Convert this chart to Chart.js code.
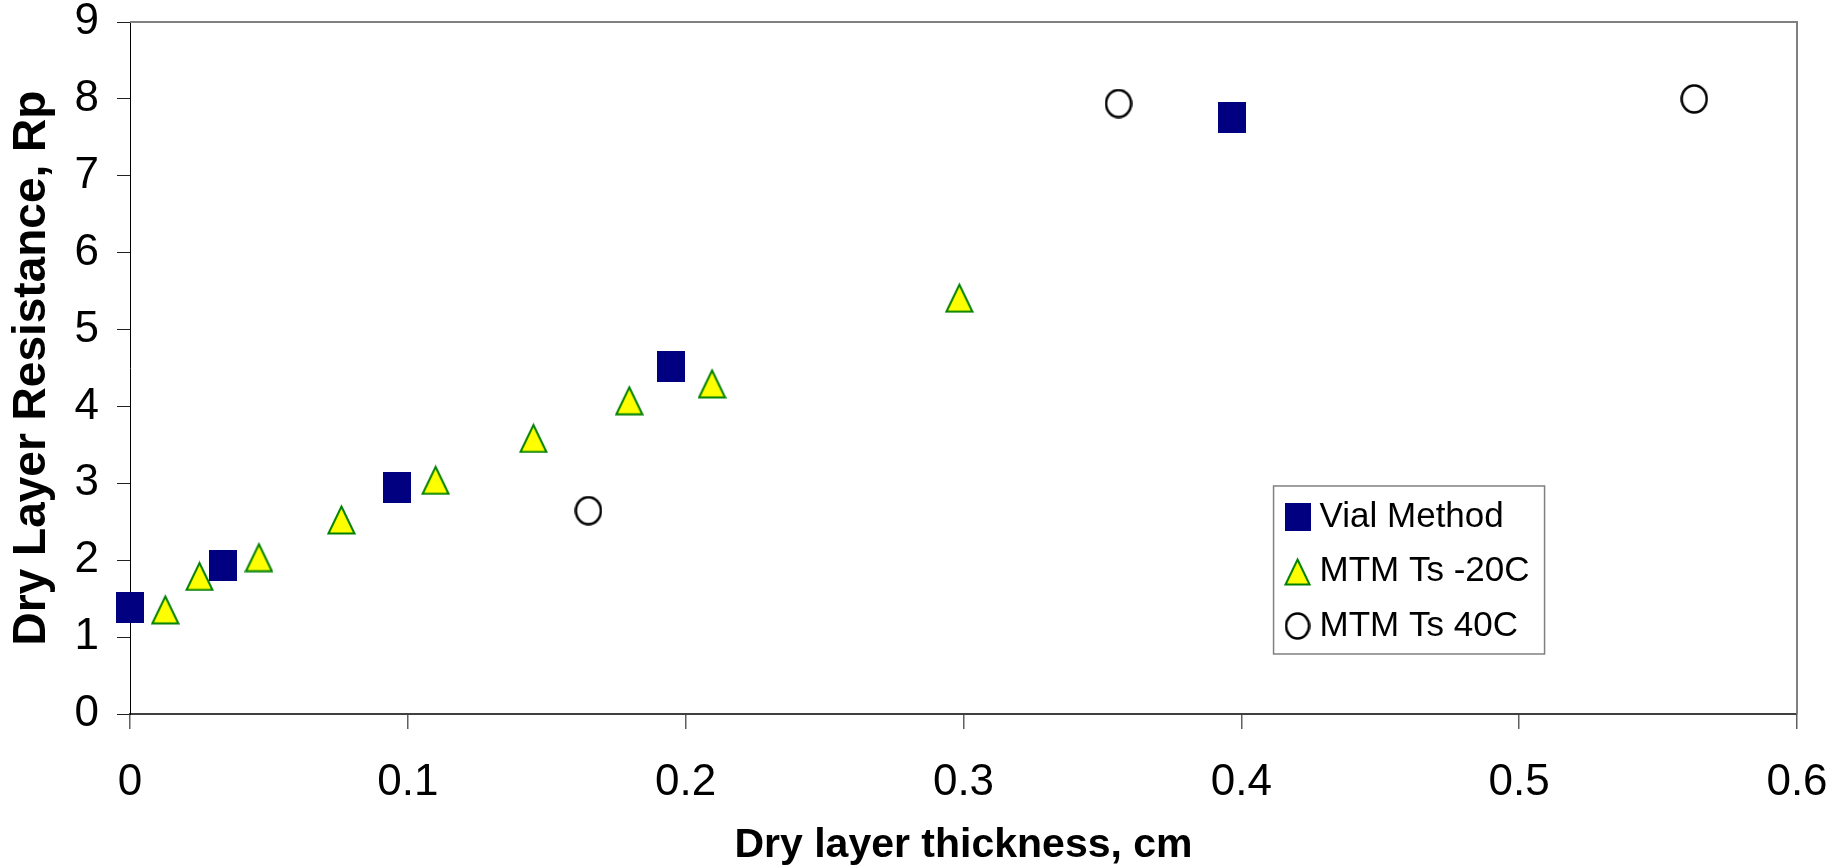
<!DOCTYPE html>
<html lang="en">
<head>
  <meta charset="UTF-8" />
  <title>Dry Layer Resistance vs Thickness</title>
  <script src="https://cdn.jsdelivr.net/npm/chart.js"></script>
  <style>
    html, body { margin: 0; padding: 0; background: #fff; }
    canvas { display: block; }
  </style>
</head>
<body>
  <canvas id="rpChart" width="1848" height="867"></canvas>

  <script>
    // dry layer thickness (cm) against dry layer resistance Rp
    const vialX = [0, 0.0333, 0.0960, 0.1949, 0.3966];
    const vialY = [1.39, 1.935, 2.94, 4.515, 7.755];

    const coldX = [0.0127, 0.0250, 0.0464, 0.0761, 0.1100, 0.1452, 0.1797, 0.2095, 0.2985];
    const coldY = [1.36, 1.795, 2.04, 2.53, 3.045, 3.59, 4.08, 4.30, 5.415];

    const warmX = [0.1650, 0.3558, 0.5630];
    const warmY = [2.645, 7.94, 8.00];

    const seriesNames = ['Vial Method', 'MTM Ts -20C', 'MTM Ts 40C'];
    const xTickLabels = ['0', '0.1', '0.2', '0.3', '0.4', '0.5', '0.6'];
    const yTickLabels = ['0', '1', '2', '3', '4', '5', '6', '7', '8', '9'];

    const FONT = '"Liberation Sans", Arial, sans-serif';

    function toPoints(xs, ys) {
      return xs.map((x, i) => ({ x: x, y: ys[i] }));
    }

    // markers are drawn on small canvases so they can be a bit taller than wide
    function marker(kind, w, h) {
      const c = document.createElement('canvas');
      c.width = w;
      c.height = h;
      const g = c.getContext('2d');
      if (kind === 'square') {
        g.fillStyle = '#000080';
        g.fillRect(0, 0, w, h);
      } else if (kind === 'triangle') {
        g.beginPath();
        g.moveTo(w / 2, 2.5);
        g.lineTo(w - 1.5, h - 1.5);
        g.lineTo(1.5, h - 1.5);
        g.closePath();
        g.fillStyle = '#ffff00';
        g.fill();
        g.lineWidth = 2;
        g.strokeStyle = '#008000';
        g.stroke();
      } else {
        g.beginPath();
        g.ellipse(w / 2, h / 2, w / 2 - 1.5, h / 2 - 1.5, 0, 0, Math.PI * 2);
        g.lineWidth = 2.5;
        g.strokeStyle = '#000';
        g.stroke();
      }
      return c;
    }

    const plotMarkers = [marker('square', 28, 31), marker('triangle', 29, 31), marker('circle', 28, 30)];
    const legendMarkers = [marker('square', 26, 28), marker('triangle', 27, 29), marker('circle', 26, 28)];

    // grey frame on the top and right of the plot area
    const plotFrame = {
      id: 'plotFrame',
      beforeDatasetsDraw(chart) {
        const { ctx, chartArea: a } = chart;
        ctx.save();
        ctx.strokeStyle = '#808080';
        ctx.lineWidth = 2;
        ctx.beginPath();
        ctx.moveTo(a.left, a.top);
        ctx.lineTo(a.right, a.top);
        ctx.lineTo(a.right, a.bottom);
        ctx.stroke();
        ctx.restore();
      }
    };

    // boxed legend sitting inside the plot, lower right
    const legendBox = {
      id: 'legendBox',
      afterDraw(chart) {
        const { ctx, chartArea: a } = chart;
        const left = a.left + (a.right - a.left) * 0.686;
        const top = a.top + (a.bottom - a.top) * 0.6705;
        const bw = 271, bh = 168;
        ctx.save();
        ctx.fillStyle = '#fff';
        ctx.fillRect(left, top, bw, bh);
        ctx.strokeStyle = '#808080';
        ctx.lineWidth = 1.5;
        ctx.strokeRect(left, top, bw, bh);
        ctx.font = '35px ' + FONT;
        ctx.textBaseline = 'middle';
        ctx.fillStyle = '#000';
        chart.data.datasets.forEach((ds, i) => {
          const cy = top + 31 + i * 54.5;
          const img = legendMarkers[i];
          ctx.drawImage(img, left + 24 - img.width / 2, cy - img.height / 2);
          ctx.fillText(ds.label, left + 46, cy);
        });
        ctx.restore();
      }
    };

    const ctx = document.getElementById('rpChart').getContext('2d');

    new Chart(ctx, {
      type: 'scatter',
      data: {
        datasets: [
          { label: seriesNames[0], data: toPoints(vialX, vialY), pointStyle: plotMarkers[0], pointRadius: 14, clip: false },
          { label: seriesNames[1], data: toPoints(coldX, coldY), pointStyle: plotMarkers[1], pointRadius: 14, clip: false },
          { label: seriesNames[2], data: toPoints(warmX, warmY), pointStyle: plotMarkers[2], pointRadius: 14, clip: false }
        ]
      },
      options: {
        responsive: false,
        animation: false,
        devicePixelRatio: 1,
        layout: { padding: { top: 22, right: 51, left: 0, bottom: 0 } },
        plugins: {
          legend: { display: false },
          tooltip: { enabled: false }
        },
        scales: {
          x: {
            type: 'linear',
            min: 0,
            max: 0.6,
            afterFit(s) {
              s.height = 153;
              s.paddingLeft = 0;
              s.paddingRight = 0;
            },
            ticks: {
              stepSize: 0.1,
              color: '#000',
              padding: 32,
              maxRotation: 0,
              font: { family: FONT, size: 44, lineHeight: 1 },
              callback: (v, i) => xTickLabels[i]
            },
            grid: { drawOnChartArea: false, drawTicks: true, tickLength: 15, color: '#606060', lineWidth: 1.5 },
            border: { display: true, color: '#404040', width: 2 },
            title: {
              display: true,
              text: 'Dry layer thickness, cm',
              color: '#000',
              padding: { top: 0, bottom: 0 },
              font: { family: FONT, size: 41, weight: 'bold', lineHeight: 1.05 }
            }
          },
          y: {
            type: 'linear',
            min: 0,
            max: 9,
            afterFit(s) {
              s.width = 130;
              s.paddingTop = 0;
              s.paddingBottom = 0;
            },
            ticks: {
              stepSize: 1,
              color: '#000',
              padding: 18,
              font: { family: FONT, size: 44, lineHeight: 1 },
              callback: (v, i) => yTickLabels[i]
            },
            grid: { drawOnChartArea: false, drawTicks: true, tickLength: 13, color: '#202020', lineWidth: 1 },
            border: { display: true, color: '#000', width: 1 },
            title: {
              display: true,
              text: 'Dry Layer Resistance, Rp',
              color: '#000',
              padding: { top: 5, bottom: 0 },
              font: { family: FONT, size: 46, weight: 'bold' }
            }
          }
        }
      },
      plugins: [plotFrame, legendBox]
    });
  </script>
</body>
</html>
